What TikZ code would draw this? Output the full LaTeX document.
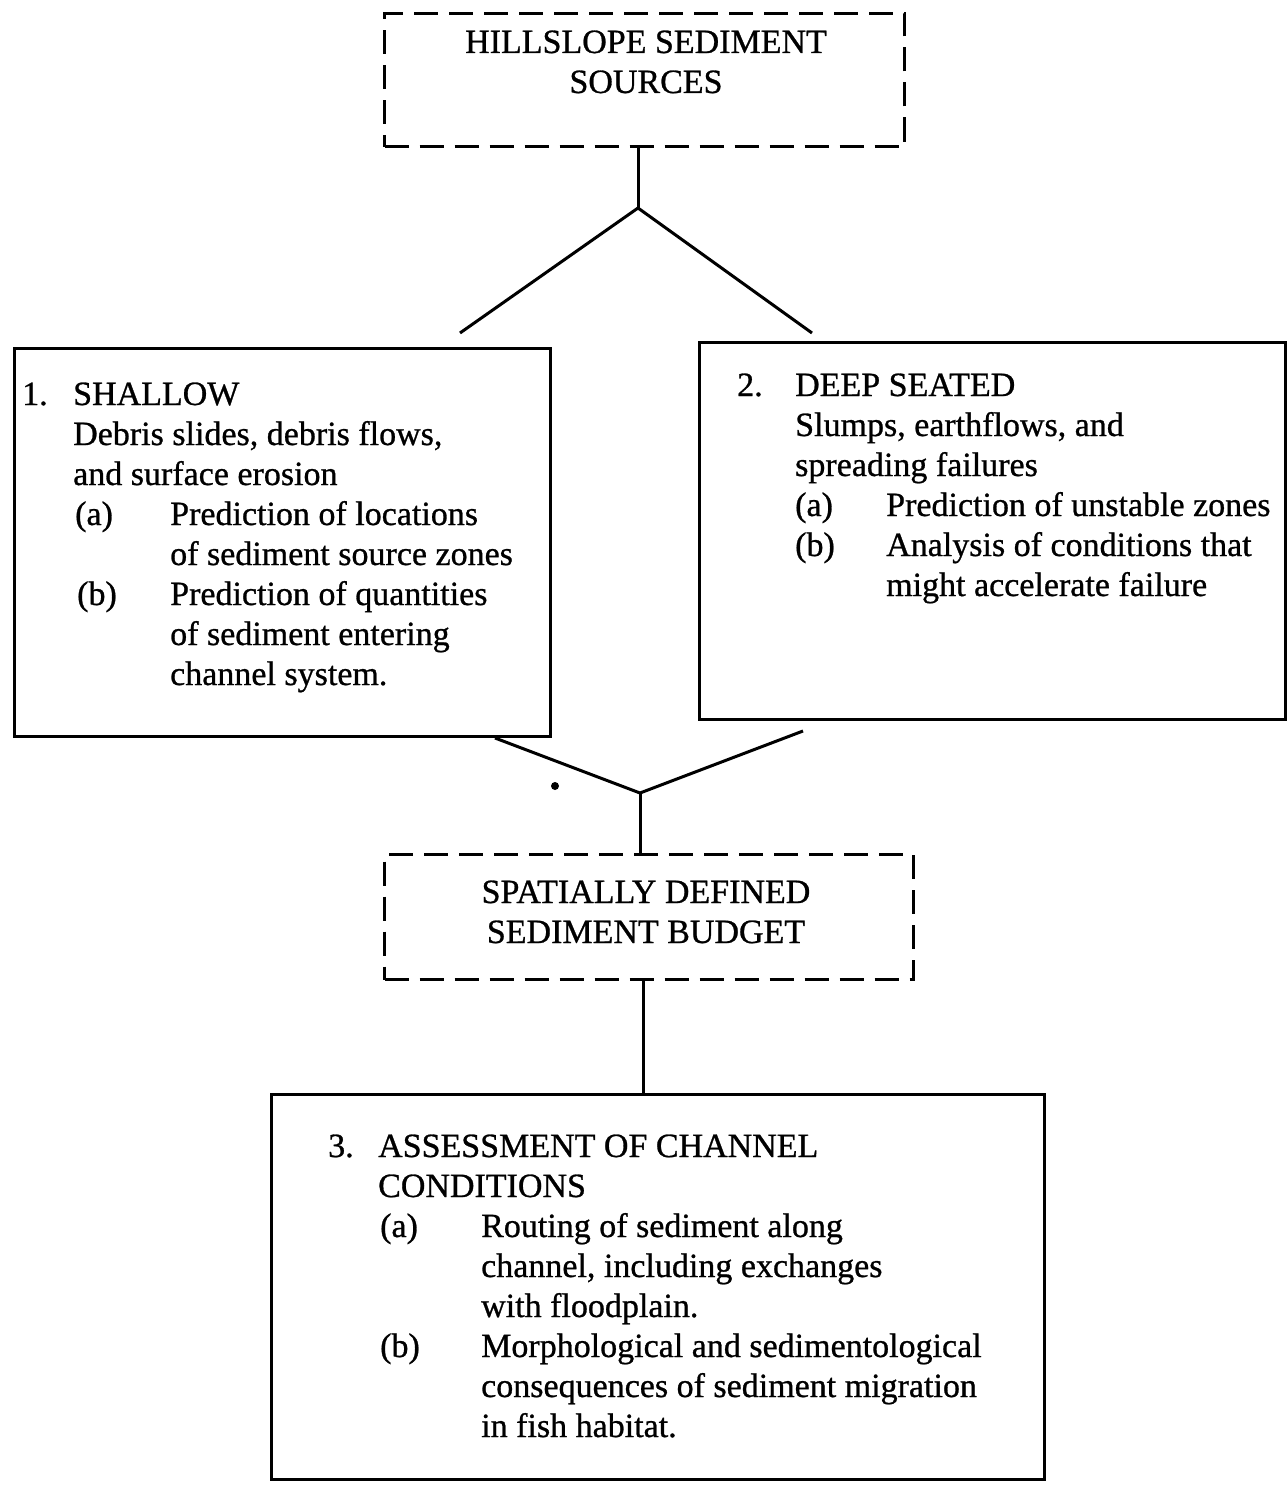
\documentclass[tikz,border=0pt]{standalone}
\usepackage{fontspec}
\setmainfont{Liberation Serif}
\newfontfamily\scanfont[FakeBold=0.8]{Liberation Serif}
\begin{document}
\begin{tikzpicture}[x=1pt,y=-1pt,
  box/.style={draw, line width=3pt, rectangle, inner sep=0pt, anchor=north west},
  dbox/.style={box, dash pattern=on 24pt off 11pt},
  txt/.style={inner sep=0pt, align=left, anchor=base west, font=\scanfont\fontsize{34}{40}\selectfont},
  ctxt/.style={inner sep=0pt, align=center, anchor=base, font=\scanfont\fontsize{34}{40}\selectfont},
  link/.style={line width=3pt}]
\useasboundingbox[fill=white] (0,0) rectangle (1286,1485);

% boxes
\node[dbox, minimum width=520pt, minimum height=133pt] (src) at (383,12) {};
\node[box, minimum width=536pt, minimum height=388pt] (shallow) at (13,347) {};
\node[box, minimum width=586pt, minimum height=377pt] (deep) at (698,341) {};
\node[dbox, minimum width=529pt, minimum height=125pt] (budget) at (383,853) {};
\node[box, minimum width=773pt, minimum height=385pt] (channel) at (270,1093) {};

% texts (anchor base = baseline of the last line)
\node[ctxt] (srctxt) at (646,93) {HILLSLOPE SEDIMENT\\SOURCES};
\node[ctxt] (budgettxt) at (646,943) {SPATIALLY DEFINED\\SEDIMENT BUDGET};

\node[txt] (shallowtxt) at (22,685) {%
\makebox[51pt][l]{1.}SHALLOW\\
\hspace*{51pt}Debris slides, debris flows,\\
\hspace*{51pt}and surface erosion\\
\hspace*{53pt}\makebox[95pt][l]{(a)}Prediction of locations\\
\hspace*{148pt}of sediment source zones\\
\hspace*{55pt}\makebox[93pt][l]{(b)}Prediction of quantities\\
\hspace*{148pt}of sediment entering\\
\hspace*{148pt}channel system.};

\node[txt] (deeptxt) at (737,596) {%
\makebox[58pt][l]{2.}DEEP SEATED\\
\hspace*{58pt}Slumps, earthflows, and\\
\hspace*{58pt}spreading failures\\
\hspace*{58pt}\makebox[91pt][l]{(a)}Prediction of unstable zones\\
\hspace*{58pt}\makebox[91pt][l]{(b)}Analysis of conditions that\\
\hspace*{149pt}might accelerate failure};

\node[txt] (channeltxt) at (328,1437) {%
\makebox[50pt][l]{3.}ASSESSMENT OF CHANNEL\\
\hspace*{50pt}CONDITIONS\\
\hspace*{52pt}\makebox[101pt][l]{(a)}Routing of sediment along\\
\hspace*{153pt}channel, including exchanges\\
\hspace*{153pt}with floodplain.\\
\hspace*{52pt}\makebox[101pt][l]{(b)}Morphological and sedimentological\\
\hspace*{153pt}consequences of sediment migration\\
\hspace*{153pt}in fish habitat.};

% connector points
\coordinate (split) at (638,208);
\coordinate (toL) at (460,333);
\coordinate (toR) at (812,333);
\coordinate (fromL) at (495,738);
\coordinate (fromR) at (803,731);
\coordinate (merge) at (640,793);

\draw[link] (src.south -| split) -- (split);
\draw[link] (toL) -- (split) -- (toR);
\draw[link] (fromL) -- (merge) -- (fromR);
\draw[link] (merge) -- (merge |- budget.north);
\draw[link] (budget.south -| 643,0) -- (channel.north -| 643,0);

\fill (555,786) circle (4pt);
\end{tikzpicture}
\end{document}
